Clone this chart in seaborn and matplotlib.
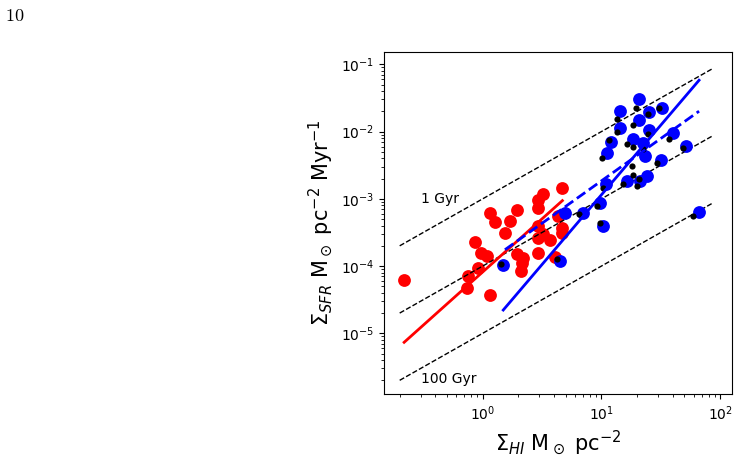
import matplotlib
matplotlib.use("Agg")
import matplotlib.pyplot as plt
import seaborn as sns
import pandas as pd

# ---- data ----
red_hi = [0.219, 0.733, 0.756, 0.918, 0.861, 0.968, 1.08, 1.152, 1.27, 1.152,
          1.54, 1.70, 1.934, 1.934, 2.20, 2.10, 2.13, 2.94, 2.94, 3.24,
          4.63, 2.91, 2.94, 3.69, 2.91, 4.33, 4.63, 4.63, 4.07, 3.24]
red_sfr = [6.13e-5, 4.78e-5, 7.1e-5, 9.47e-5, 2.27e-4, 1.58e-4, 1.41e-4, 6.2e-4, 4.51e-4, 3.7e-5,
           3.13e-4, 4.67e-4, 6.8e-4, 1.49e-4, 1.33e-4, 8.43e-5, 1.12e-4, 7.38e-4, 9.57e-4, 1.16e-3,
           1.46e-3, 3.93e-4, 2.64e-4, 2.43e-4, 1.55e-4, 5.53e-4, 3.72e-4, 3.06e-4, 1.38e-4, 2.96e-4]

blue_hi = [20.9, 14.2, 20.9, 25.3, 32.2, 14.2, 25.3, 39.9, 51.6, 12.05,
           11.08, 18.6, 22.5, 23.3, 31.8, 16.3, 24.1, 21.1, 10.94, 9.73,
           6.96, 4.93, 66.4, 1.49, 4.48, 10.26]
blue_sfr = [0.030, 0.0201, 0.0151, 0.0194, 0.0226, 0.0114, 0.0104, 0.0096, 0.0062, 0.00705,
            0.00484, 0.00782, 0.00682, 0.0043, 0.00376, 0.00183, 0.00217, 0.00183, 0.00164, 8.75e-4,
            6.21e-4, 6.21e-4, 6.43e-4, 1.02e-4, 1.19e-4, 3.93e-4]

black_hi = [19.6, 13.6, 24.8, 30.6, 18.6, 13.6, 24.8, 37.3, 49.0, 11.66,
            10.06, 16.3, 18.3, 22.5, 29.6, 18.0, 18.6, 20.9, 20.1, 15.3,
            10.26, 9.18, 9.73, 1.435, 58.8, 4.2, 6.48]
black_sfr = [0.0226, 0.0155, 0.0180, 0.0226, 0.0127, 0.0098, 0.0093, 0.00764, 0.00561, 0.00738,
             0.00398, 0.00659, 0.00586, 0.00542, 0.00336, 0.00313, 0.00225, 0.00194, 0.00155, 0.00164,
             0.00146, 7.71e-4, 4.42e-4, 1.09e-4, 5.53e-4, 1.29e-4, 6.01e-4]

# fit lines (end points)
red_fit_x = [0.218, 4.69]
red_fit_y = [7.35e-6, 9.4e-4]
blue_fit_x = [1.49, 66.4]
blue_fit_y = [2.22e-5, 0.058]
blue_fit2_x = [1.54, 66.4]
blue_fit2_y = [1.75e-4, 0.0201]

# constant depletion time lines (1, 10, 100 Gyr)
dep_x = [0.2, 87.0]
dep_1gyr = [2e-4, 8.7e-2]
dep_10gyr = [2e-5, 8.7e-3]
dep_100gyr = [2e-6, 8.7e-4]

# ---- figure ----
fig = plt.figure(figsize=(7.39, 4.66), dpi=100)
ax = fig.add_axes([0.5196, 0.1539, 0.4705, 0.7351])

red_df = pd.DataFrame({"hi": red_hi, "sfr": red_sfr})
blue_df = pd.DataFrame({"hi": blue_hi, "sfr": blue_sfr})
black_df = pd.DataFrame({"hi": black_hi, "sfr": black_sfr})

sns.scatterplot(data=red_df, x="hi", y="sfr", ax=ax, color="red", s=85, linewidth=0, zorder=1)

for yy in (dep_1gyr, dep_10gyr, dep_100gyr):
    sns.lineplot(x=dep_x, y=yy, ax=ax, color="black", lw=1, linestyle="--", zorder=2)

sns.scatterplot(data=blue_df, x="hi", y="sfr", ax=ax, color="blue", s=85, linewidth=0, zorder=3)
sns.scatterplot(data=black_df, x="hi", y="sfr", ax=ax, color="black", s=20, linewidth=0, zorder=4)

sns.lineplot(x=red_fit_x, y=red_fit_y, ax=ax, color="red", lw=2, zorder=5)
sns.lineplot(x=blue_fit_x, y=blue_fit_y, ax=ax, color="blue", lw=2, zorder=5)
sns.lineplot(x=blue_fit2_x, y=blue_fit2_y, ax=ax, color="blue", lw=2, linestyle="--", zorder=5)

ax.set_xscale("log")
ax.set_yscale("log")
ax.set_xlim(0.1475, 125)
ax.set_ylim(1.24e-6, 0.154)

ax.text(0.3, 1.0e-3, "1 Gyr", fontsize=10, va="center")
ax.text(0.3, 2.1e-6, "100 Gyr", fontsize=10, va="center")

ax.set_xlabel(r"$\Sigma_{HI}$ M$_\odot$ pc$^{-2}$", fontsize=15)
ax.set_ylabel(r"$\Sigma_{SFR}$ M$_\odot$ pc$^{-2}$ Myr$^{-1}$", fontsize=15)
ax.tick_params(labelsize=10)

fig.text(0.007, 0.955, r"$10$", fontsize=13, math_fontfamily="cm")

fig.savefig("out.png", dpi=100)
